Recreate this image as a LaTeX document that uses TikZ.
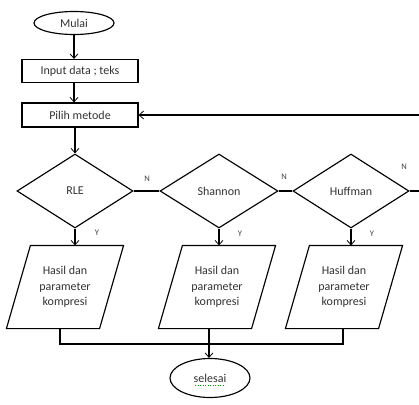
\documentclass[tikz,border=0pt]{standalone}
\usepackage{fontspec}
\setmainfont{Carlito}
\usetikzlibrary{shapes.geometric,arrows.meta,calc}
\begin{document}
\begin{tikzpicture}[x=1pt,y=-1pt,
  line width=1.15pt,
  txt/.style={font=\fontsize{12}{15.5}\selectfont, text=black!80},
  term/.style={ellipse, draw, inner sep=0pt, txt},
  proc/.style={rectangle, draw, minimum width=116pt, minimum height=23pt, inner sep=0pt, txt},
  dec/.style={diamond, draw, minimum width=116pt, minimum height=74pt, inner sep=0pt, txt},
  io/.style={draw=none, minimum width=92pt, minimum height=82pt, inner sep=0pt, align=center, txt},
  lbl/.style={font=\fontsize{8.5}{8.5}\selectfont, text=black!75},
  arr/.style={-{Straight Barb[length=4.5pt,width=8pt,line width=0.8pt]}}
]
\useasboundingbox (0,0) rectangle (419,404);
\fill[white] (0,0) rectangle (419,404);

\node[term, minimum width=80pt, minimum height=23pt] (mulai) at (74,23) {Mulai};
\node[proc] (input) at (80,71) {Input data ; teks};
\node[proc, minimum height=24pt] (pilih) at (80,115) {Pilih metode};

\node[dec] (rle) at (75,191) {RLE};
\node[dec, minimum width=118pt] (shannon) at (219,191) {Shannon};
\node[dec] (huffman) at (351,191) {Huffman};

\node[io] (p1) at (65,287) {Hasil dan\\parameter\\kompresi};
\node[io] (p2) at (217,287) {Hasil dan\\parameter\\kompresi};
\node[io] (p3) at (344,287) {Hasil dan\\parameter\\kompresi};
\foreach \p in {p1,p2,p3}{
  \draw ([xshift=12pt]\p.north west) -- ([xshift=12pt]\p.north east)
     -- ([xshift=-12pt]\p.south east) -- ([xshift=-12pt]\p.south west) -- cycle;
}

\node[term, minimum width=80pt, minimum height=39pt] (selesai) at (210,378) {selesai};
\draw[green!60!black, line width=0.5pt, dotted] ([xshift=-15pt,yshift=-7pt]selesai.center) -- ([xshift=15pt,yshift=-7pt]selesai.center);

% main column
\draw[arr] (mulai.south) -- (mulai.south |- input.north);
\draw[arr] (input.south -| mulai.south) -- (mulai.south |- pilih.north);
\draw[arr] (pilih.south -| rle.north) -- (rle.north);

% N branches
\draw (rle.east) -- (shannon.west);
\draw (shannon.east) -- (huffman.west);
\coordinate (back) at (422,191);
\draw[arr] (huffman.east) -- (back) -- (back |- pilih.east) -- (pilih.east);
\node[lbl] (n1) at (147,179) {N};
\node[lbl] (n2) at (284,177) {N};
\node[lbl] (n3) at (404,167) {N};

% Y branches
\draw[arr] (rle.south) -- (rle.south |- p1.north);
\draw[arr] (shannon.south) -- (shannon.south |- p2.north);
\draw[arr] (huffman.south) -- (huffman.south |- p3.north);
\node[lbl] (y1) at (97,233) {Y};
\node[lbl] (y2) at (240,234) {Y};
\node[lbl] (y3) at (372,234) {Y};

% merge
\coordinate (m1) at ([xshift=-5pt]p1.south |- 0,344);
\coordinate (m3) at ([xshift=-1pt]p3.south |- 0,344);
\draw ([xshift=-5pt]p1.south) -- (m1) -- (m3) -- ([xshift=-1pt]p3.south);
\draw[arr] ([xshift=-8pt]p2.south) -- ([xshift=-8pt]p2.south |- selesai.north);
\end{tikzpicture}
\end{document}
